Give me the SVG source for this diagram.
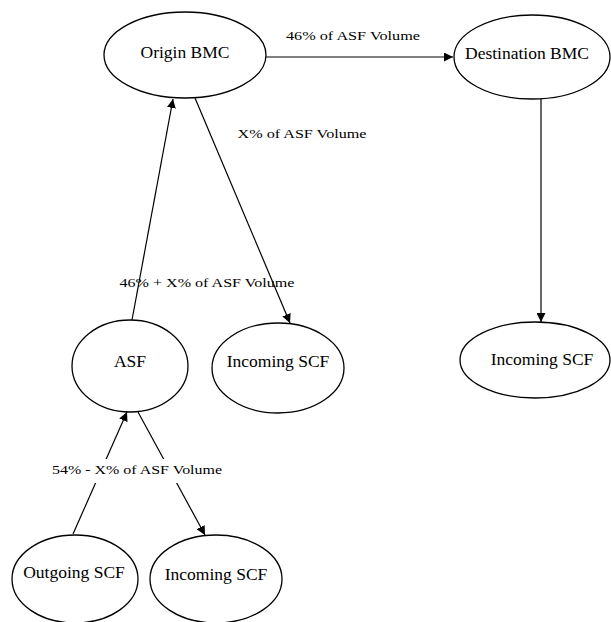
<svg xmlns="http://www.w3.org/2000/svg" width="611" height="622" viewBox="0 0 611 622">
<style>
.node ellipse{fill:#fff;stroke:#000;stroke-width:1.3}
.node text{font-size:17.5px;text-anchor:middle;fill:#000}
.lbl{font-size:13.5px;text-anchor:middle;fill:#000}
.edge{stroke:#000;stroke-width:1.2;fill:none}
</style>
<defs>
<marker id="ah" viewBox="0 0 10 10" refX="10" refY="5" markerWidth="9" markerHeight="9" markerUnits="userSpaceOnUse" orient="auto">
<path d="M0,0 L10,5 L0,10 z" fill="#000"/>
</marker>
</defs>
<g font-family="Liberation Serif, Times New Roman, serif">
<g id="connectors">
<line class="edge" x1="266" y1="57" x2="453" y2="57" marker-end="url(#ah)"/>
<line class="edge" x1="541" y1="98" x2="541" y2="322" marker-end="url(#ah)"/>
<line class="edge" x1="132" y1="320" x2="173" y2="99" marker-end="url(#ah)"/>
<line class="edge" x1="195" y1="98" x2="290" y2="323" marker-end="url(#ah)"/>
<line class="edge" x1="73" y1="534" x2="127" y2="412" marker-end="url(#ah)"/>
<line class="edge" x1="138" y1="412" x2="205" y2="535" marker-end="url(#ah)"/>
<text class="lbl" x="353" y="40" textLength="134" lengthAdjust="spacingAndGlyphs">46% of ASF Volume</text>
<text class="lbl" x="302" y="138" textLength="129" lengthAdjust="spacingAndGlyphs">X% of ASF Volume</text>
<text class="lbl" x="207" y="287" textLength="175" lengthAdjust="spacingAndGlyphs">46% + X% of ASF Volume</text>
<rect x="48" y="459" width="180" height="24" fill="#fff"/>
<text class="lbl" x="137" y="474" textLength="170" lengthAdjust="spacingAndGlyphs">54% - X% of ASF Volume</text>
</g>
<g id="origin-bmc" class="node"><ellipse cx="185" cy="55" rx="81" ry="43"/><text x="185" y="58">Origin BMC</text></g>
<g id="destination-bmc" class="node"><ellipse cx="532" cy="57" rx="78" ry="42"/><text x="527" y="59">Destination BMC</text></g>
<g id="incoming-scf-right" class="node"><ellipse cx="535" cy="360" rx="75" ry="38"/><text x="542" y="365">Incoming SCF</text></g>
<g id="asf" class="node"><ellipse cx="130" cy="366" rx="58" ry="46"/><text x="130" y="367">ASF</text></g>
<g id="incoming-scf-mid" class="node"><ellipse cx="278" cy="368" rx="66" ry="45"/><text x="278" y="367">Incoming SCF</text></g>
<g id="outgoing-scf" class="node"><ellipse cx="75" cy="579" rx="63" ry="44"/><text x="74" y="578">Outgoing SCF</text></g>
<g id="incoming-scf-bottom" class="node"><ellipse cx="216" cy="579" rx="66" ry="44"/><text x="216" y="580">Incoming SCF</text></g>
</g>
</svg>
